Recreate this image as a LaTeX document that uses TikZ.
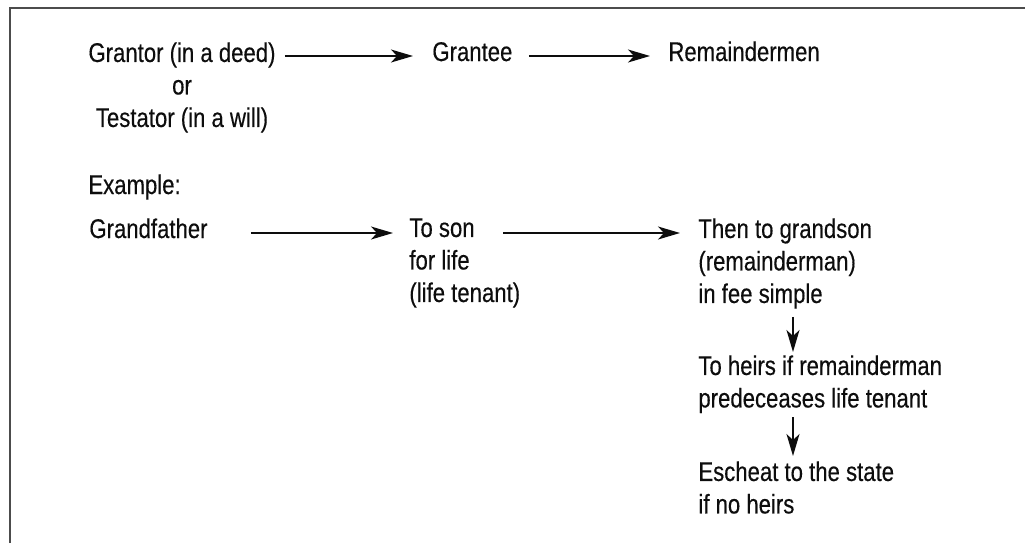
\documentclass[tikz,border=0pt]{standalone}
\usepackage{fontspec}
\setmainfont{Liberation Sans}[FakeStretch=0.82, FakeBold=0.35]
\usetikzlibrary{arrows.meta,calc}

\begin{document}
\begin{tikzpicture}[x=0.5pt, y=-0.5pt,
    txt/.style={inner sep=0pt, font=\fontsize{13.5}{16.25}\selectfont, text=black!95},
    line/.style={txt, anchor=base west, text height=9pt, text depth=4pt},
    block/.style={txt, anchor=north west, align=left},
    arrow/.style={-{Stealth[length=11pt, width=6.5pt, inset=3pt]}, line width=0.7pt, draw=black!95}]

    \useasboundingbox (0,0) rectangle (1025,543);
    % open frame: top and left edge only
    \draw[line width=1pt, black!70] (9.5,543) -- (9.5,8) -- (1025,8);

    % general scheme
    \node[block, anchor=north, align=center] (grant) at (182,42) {Grantor (in a deed)\\or\hspace{7pt}\\Testator (in a will)};
    \node[line] (grantee) at (432,61) {Grantee};
    \node[line] (remain) at (668,61) {Remaindermen};

    % example
    \node[line] (example) at (88,194) {Example:};
    \node[line] (gfather) at (89,238) {Grandfather};
    \node[block] (son) at (409,218) {To son\\for life\\(life tenant)};
    \node[block] (gson) at (698,218) {Then to grandson\\(remainderman)\\in fee simple};
    \node[block] (heirs) at (698,355) {To heirs if remainderman\\predeceases life tenant};
    \node[block] (escheat) at (698,461) {Escheat to the state\\if no heirs};

    \draw[arrow, shorten <=4.5pt, shorten >=9.5pt] (grant.east |- grantee) -- (grantee);
    \draw[arrow, shorten <=8pt, shorten >=9pt] (grantee) -- (remain);
    \draw[arrow, shorten <=21.5pt, shorten >=8pt] (gfather) -- (gfather -| son.west);
    \draw[arrow, shorten >=9pt] ($(gfather -| son.west)+(94,0)$) -- (gfather -| gson.west);
    \draw[arrow, shorten <=4pt, shorten >=1.5pt] ($(gson.south west)+(95,0)$) -- ($(heirs.north west)+(95,0)$);
    \draw[arrow, shorten <=2pt, shorten >=2.5pt] ($(heirs.south west)+(95,0)$) -- ($(escheat.north west)+(95,0)$);
\end{tikzpicture}
\end{document}
